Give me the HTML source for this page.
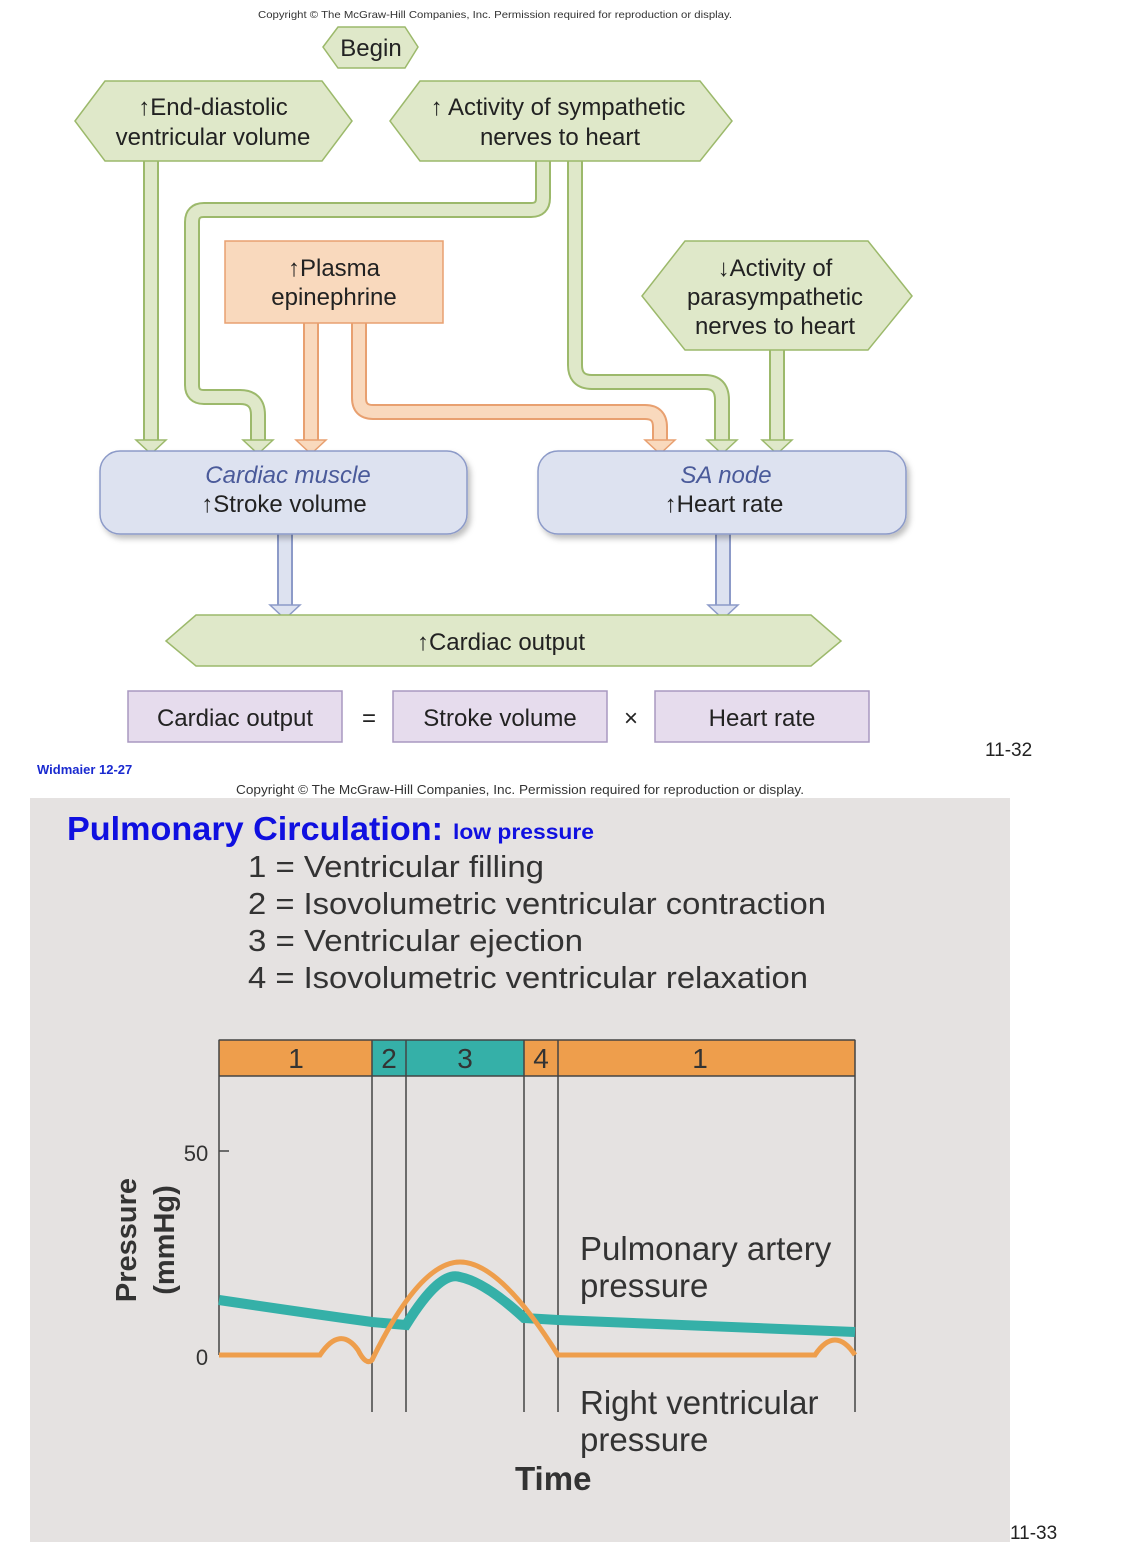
<!DOCTYPE html>
<html><head><meta charset="utf-8"><style>
html,body{margin:0;padding:0;background:#fff;}
svg{display:block;font-family:"Liberation Sans",Arial,sans-serif;}
</style></head><body>
<svg width="1138" height="1549" viewBox="0 0 1138 1549" xmlns="http://www.w3.org/2000/svg">
<defs>
<filter id="sh" x="-5%" y="-5%" width="115%" height="125%"><feDropShadow dx="3" dy="4" stdDeviation="3" flood-color="#000" flood-opacity="0.25"/></filter>
</defs>
<text x="258" y="18" font-size="10.5" fill="#333" textLength="474" lengthAdjust="spacingAndGlyphs">Copyright © The McGraw-Hill Companies, Inc. Permission required for reproduction or display.</text>

<g fill="none" stroke-linejoin="round">
<g stroke="#9cb96b" stroke-width="16">
<path d="M151 160 V440"/>
<path d="M543 160 V198 Q543 210 531 210 H204 Q192 210 192 222 V385 Q192 397 204 397 H240 Q258 397 258 415 V440"/>
<path d="M575 160 V365 Q575 382 592 382 H705 Q722 382 722 400 V440"/>
<path d="M777 349 V440"/>
</g>
<g stroke="#dfe8c9" stroke-width="12">
<path d="M151 160 V441"/>
<path d="M543 160 V198 Q543 210 531 210 H204 Q192 210 192 222 V385 Q192 397 204 397 H240 Q258 397 258 415 V441"/>
<path d="M575 160 V365 Q575 382 592 382 H705 Q722 382 722 400 V441"/>
<path d="M777 349 V441"/>
</g>
<g stroke="#e8a070" stroke-width="16">
<path d="M311 322 V440"/>
<path d="M359 322 V398 Q359 412 373 412 H645 Q660 412 660 427 V440"/>
</g>
<g stroke="#f9d9bd" stroke-width="12">
<path d="M311 322 V441"/>
<path d="M359 322 V398 Q359 412 373 412 H645 Q660 412 660 427 V441"/>
</g>
<g stroke="#8c9ac8" stroke-width="16">
<path d="M285 533 V605"/><path d="M723 533 V605"/>
</g>
<g stroke="#dde2f0" stroke-width="12">
<path d="M285 533 V606"/><path d="M723 533 V606"/>
</g>
</g>
<g stroke-width="1.5">
<g fill="#dfe8c9" stroke="#9cb96b">
<polygon points="136,440 166,440 151,454"/>
<polygon points="243,440 273,440 258,454"/>
<polygon points="707,440 737,440 722,454"/>
<polygon points="762,440 792,440 777,454"/>
</g>
<g fill="#f9d9bd" stroke="#e8a070">
<polygon points="296,440 326,440 311,454"/>
<polygon points="645,440 675,440 660,454"/>
</g>
<g fill="#dde2f0" stroke="#8c9ac8">
<polygon points="270,605 300,605 285,619"/>
<polygon points="708,605 738,605 723,619"/>
</g>
</g>

<g fill="#dfe8c9" stroke="#9cb96b" stroke-width="1.5">
<polygon points="323,47 338,27 405,27 418,47 405,68 338,68"/>
<polygon points="75,121 105,81 322,81 352,121 322,161 105,161"/>
<polygon points="390,121 420,81 700,81 732,121 700,161 420,161"/>
<polygon points="642,296 685,241 868,241 912,296 868,350 685,350"/>
</g>
<rect x="225" y="241" width="218" height="82" fill="#f9d9bd" stroke="#e8a070" stroke-width="1.5"/>
<g filter="url(#sh)" fill="#dde2f0" stroke="#8c9ac8" stroke-width="1.5">
<rect x="100" y="451" width="367" height="83" rx="20"/>
<rect x="538" y="451" width="368" height="83" rx="20"/>
</g>
<polygon points="166,641 196,615 811,615 841,641 811,666 196,666" fill="#dfe8c9" stroke="#9cb96b" stroke-width="1.5"/>
<g fill="#e6dced" stroke="#a898c0" stroke-width="1.5">
<rect x="128" y="691" width="214" height="51"/>
<rect x="393" y="691" width="214" height="51"/>
<rect x="655" y="691" width="214" height="51"/>
</g>

<g font-size="24" fill="#222" text-anchor="middle">
<text x="371" y="56">Begin</text>
<text x="213" y="115">↑End-diastolic</text>
<text x="213" y="145">ventricular volume</text>
<text x="558" y="115">↑ Activity of sympathetic</text>
<text x="560" y="145">nerves to heart</text>
<text x="334" y="276">↑Plasma</text>
<text x="334" y="305">epinephrine</text>
<text x="775" y="276">↓Activity of</text>
<text x="775" y="305">parasympathetic</text>
<text x="775" y="334">nerves to heart</text>
<text x="288" y="483" font-style="italic" fill="#4a5a9a">Cardiac muscle</text>
<text x="284" y="512">↑Stroke volume</text>
<text x="726" y="483" font-style="italic" fill="#4a5a9a">SA node</text>
<text x="724" y="512">↑Heart rate</text>
<text x="501" y="650">↑Cardiac output</text>
<text x="235" y="726">Cardiac output</text>
<text x="369" y="726">=</text>
<text x="500" y="726">Stroke volume</text>
<text x="631" y="726">×</text>
<text x="762" y="726">Heart rate</text>
</g>
<text x="985" y="756" font-size="19" fill="#222">11-32</text>
<text x="37" y="774" font-size="13" font-weight="bold" fill="#1a2ad0">Widmaier 12-27</text>
<text x="236" y="794" font-size="13" fill="#333" textLength="568" lengthAdjust="spacingAndGlyphs">Copyright © The McGraw-Hill Companies, Inc. Permission required for reproduction or display.</text>

<rect x="30" y="798" width="980" height="744" fill="#e5e2e1"/>
<text x="67" y="840" font-size="33" font-weight="bold" fill="#1010e0" textLength="376" lengthAdjust="spacingAndGlyphs">Pulmonary Circulation:</text>
<text x="453" y="839" font-size="21" font-weight="bold" fill="#1010e0" textLength="141" lengthAdjust="spacingAndGlyphs">low pressure</text>
<g font-size="31" fill="#333" lengthAdjust="spacingAndGlyphs">
<text x="248" y="877" textLength="296" lengthAdjust="spacingAndGlyphs">1 = Ventricular filling</text>
<text x="248" y="914" textLength="578" lengthAdjust="spacingAndGlyphs">2 = Isovolumetric ventricular contraction</text>
<text x="248" y="951" textLength="335" lengthAdjust="spacingAndGlyphs">3 = Ventricular ejection</text>
<text x="248" y="988" textLength="560" lengthAdjust="spacingAndGlyphs">4 = Isovolumetric ventricular relaxation</text>
</g>
<rect x="219" y="1040" width="636" height="36" fill="#ee9e4c" stroke="#444" stroke-width="1"/>
<rect x="372" y="1040" width="152" height="36" fill="#35b0a8"/>
<g stroke="#444" stroke-width="1.5">
<line x1="219" y1="1040" x2="219" y2="1355"/>
<line x1="372" y1="1040" x2="372" y2="1412"/>
<line x1="406" y1="1040" x2="406" y2="1412"/>
<line x1="524" y1="1040" x2="524" y2="1412"/>
<line x1="558" y1="1040" x2="558" y2="1412"/>
<line x1="855" y1="1040" x2="855" y2="1412"/>
<line x1="219" y1="1040" x2="855" y2="1040"/>
<line x1="219" y1="1076" x2="855" y2="1076"/>
<line x1="219" y1="1151" x2="229" y2="1151"/>
<line x1="219" y1="1355" x2="229" y2="1355"/>
</g>
<g font-size="28" fill="#333" text-anchor="middle">
<text x="296" y="1068">1</text><text x="389" y="1068">2</text><text x="465" y="1068">3</text><text x="541" y="1068">4</text><text x="700" y="1068">1</text>
</g>
<text x="196" y="1161" font-size="22" fill="#333" text-anchor="middle">50</text>
<text x="202" y="1365" font-size="22" fill="#333" text-anchor="middle">0</text>
<g transform="translate(136,1240) rotate(-90)" font-size="29" font-weight="bold" fill="#333" text-anchor="middle">
<text x="0" y="0">Pressure</text><text x="0" y="38">(mmHg)</text>
</g>
<path d="M219 1300 Q300 1312 372 1322 L406 1325 Q440 1270 460 1277 Q485 1282 524 1318 L558 1320 Q700 1326 855 1332" fill="none" stroke="#35b0a8" stroke-width="10"/>
<path d="M219 1355 H320 Q340 1325 358 1350 Q366 1366 372 1360 Q420 1262 460 1262 Q500 1262 558 1355 H815 Q835 1325 855 1355" fill="none" stroke="#ee9e4c" stroke-width="5"/>
<g font-size="33" fill="#333">
<text x="580" y="1260">Pulmonary artery</text>
<text x="580" y="1297">pressure</text>
<text x="580" y="1414">Right ventricular</text>
<text x="580" y="1451">pressure</text>
<text x="515" y="1490" font-weight="bold">Time</text>
</g>
<text x="1010" y="1539" font-size="19" fill="#222">11-33</text>
</svg>
</body></html>
